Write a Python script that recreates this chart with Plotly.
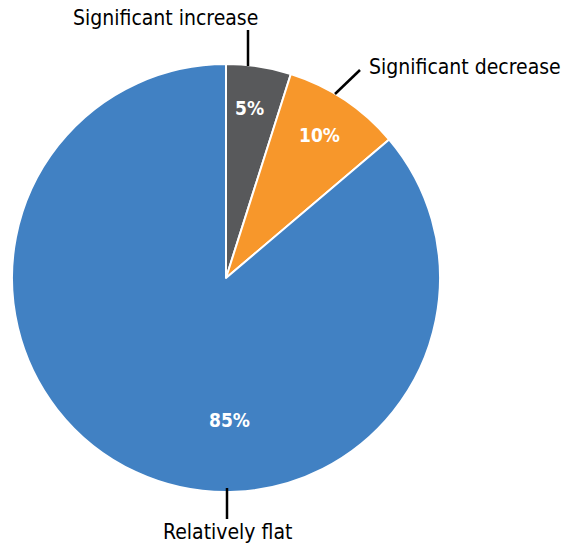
import plotly.graph_objects as go

labels = ["Significant increase", "Significant decrease", "Relatively flat"]
# slice sizes as drawn in the reference (angles)
values = [4.9, 8.9, 86.2]
# percentage texts as printed in the reference
pct_labels = ["5%", "10%", "85%"]
colors = ["#58595B", "#F7972B", "#4181C3"]

W, H = 561, 546
L, R, T, B = 12, 121, 64, 54
FONT = "Liberation Sans Narrow, Arial Narrow, DejaVu Sans Condensed, sans-serif"

fig = go.Figure(go.Pie(
    labels=labels,
    values=values,
    sort=False,
    direction="clockwise",
    rotation=0,
    marker=dict(colors=colors, line=dict(color="white", width=2)),
    textinfo="none",
    showlegend=False,
    hoverinfo="label",
))

def px(x):
    return (x - L) / (W - L - R)

def py(y):
    return 1 - (y - T) / (H - T - B)

# leader lines
lines = [((248, 30), (248, 66)), ((335, 94), (360, 70)), ((227, 488), (227, 519))]
for (x0, y0), (x1, y1) in lines:
    fig.add_shape(type="line", xref="paper", yref="paper",
                  x0=px(x0), y0=py(y0), x1=px(x1), y1=py(y1),
                  line=dict(color="black", width=2.5))

label_pos = [(165, 18, "center"), (367, 67, "left"), (228, 532, "center")]
for lab, (x, y, anchor) in zip(labels, label_pos):
    fig.add_annotation(xref="paper", yref="paper", x=px(x), y=py(y),
                       text=lab, showarrow=False, xanchor=anchor, yanchor="middle",
                       font=dict(size=21, color="black", family=FONT))

pct_pos = [(249, 108), (319, 135), (229, 420)]
for t, (x, y) in zip(pct_labels, pct_pos):
    fig.add_annotation(xref="paper", yref="paper", x=px(x), y=py(y),
                       text=f"<b>{t}</b>", showarrow=False,
                       xanchor="center", yanchor="middle",
                       font=dict(size=19, color="white", family=FONT))

fig.update_layout(
    width=W, height=H,
    margin=dict(l=L, r=R, t=T, b=B),
    paper_bgcolor="white", plot_bgcolor="white",
)
fig.write_html("out.html")
